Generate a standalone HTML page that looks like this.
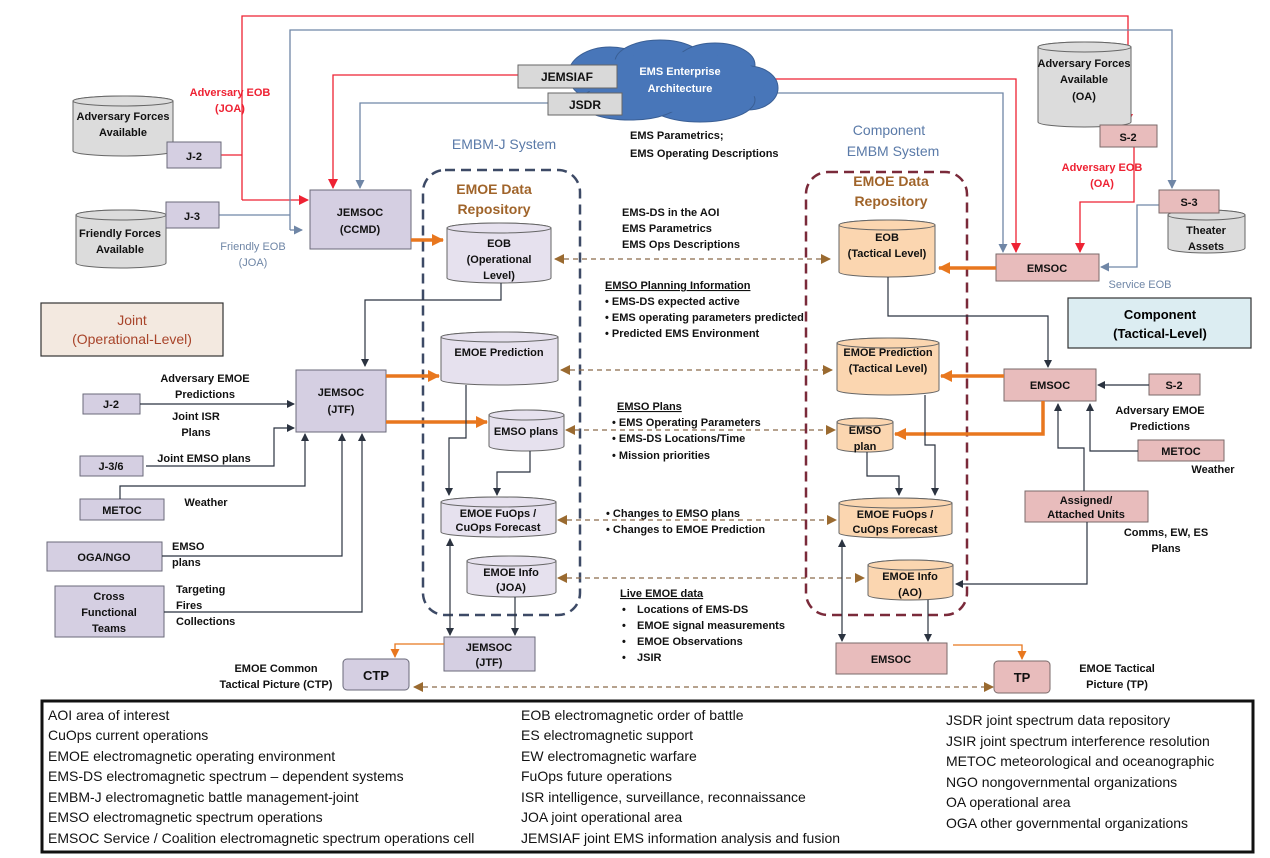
<!DOCTYPE html>
<html><head><meta charset="utf-8"><style>
html,body{margin:0;padding:0;background:#fff;}
svg{display:block;font-family:"Liberation Sans",Arial,sans-serif;}
.t{font-size:11px;font-weight:bold;fill:#111;}
.c{text-anchor:middle;}
.bx{fill:#d5cfe2;stroke:#6a6a7a;stroke-width:1;}
.pk{fill:#e8bcbc;stroke:#7a6a6a;stroke-width:1;}
.gy{fill:#dcdcdc;stroke:#666;stroke-width:1;}
.lv{fill:#e6e1ee;stroke:#666;stroke-width:1;}
.or{fill:#fbd6b0;stroke:#666;stroke-width:1;}
.k{fill:none;stroke:#2b3340;stroke-width:1.2;}
.r{fill:none;stroke:#ee2233;stroke-width:1.3;}
.g{fill:none;stroke:#6f86a6;stroke-width:1.3;}
.o{fill:none;stroke:#e8771e;stroke-width:3.5;}
.o1{fill:none;stroke:#e8771e;stroke-width:1.3;}
.d{fill:none;stroke:#8a6a4a;stroke-width:1.2;stroke-dasharray:5,4;}
.lg{font-size:14px;fill:#111;}
</style></head><body>
<svg width="1270" height="858" viewBox="0 0 1270 858">
<defs>
<marker id="mk" markerWidth="8" markerHeight="8" refX="7" refY="4" orient="auto" markerUnits="userSpaceOnUse"><path d="M0,0L8,4L0,8z" fill="#2b3340"/></marker>
<marker id="mr" markerWidth="10" markerHeight="10" refX="9" refY="5" orient="auto" markerUnits="userSpaceOnUse"><path d="M0,0L10,5L0,10z" fill="#ee2233"/></marker>
<marker id="mg" markerWidth="9" markerHeight="9" refX="8" refY="4.5" orient="auto" markerUnits="userSpaceOnUse"><path d="M0,0L9,4.5L0,9z" fill="#6f86a6"/></marker>
<marker id="mo" markerWidth="12" markerHeight="12" refX="11" refY="6" orient="auto" markerUnits="userSpaceOnUse"><path d="M0,0L12,6L0,12z" fill="#e8771e"/></marker>
<marker id="mo1" markerWidth="9" markerHeight="9" refX="8" refY="4.5" orient="auto" markerUnits="userSpaceOnUse"><path d="M0,0L9,4.5L0,9z" fill="#e8771e"/></marker>
<marker id="md" markerWidth="10" markerHeight="10" refX="9" refY="5" orient="auto" markerUnits="userSpaceOnUse"><path d="M0,0L10,5L0,10z" fill="#9a6a30"/></marker>
<marker id="mds" markerWidth="10" markerHeight="10" refX="1" refY="5" orient="auto" markerUnits="userSpaceOnUse"><path d="M10,0L0,5L10,10z" fill="#9a6a30"/></marker>
<marker id="mks" markerWidth="8" markerHeight="8" refX="1" refY="4" orient="auto" markerUnits="userSpaceOnUse"><path d="M8,0L0,4L8,8z" fill="#2b3340"/></marker>
</defs>

<path class="r" d="M242,200 V16 H1128 V123" marker-end="url(#mr)"/>
<path class="r" d="M221,155 H242"/>
<path class="r" d="M242,200 H308" marker-end="url(#mr)"/>
<path class="g" d="M290,230 V30 H1172 V188" marker-end="url(#mg)"/>
<path class="g" d="M290,230 H302" marker-end="url(#mg)"/>
<path class="g" d="M219,215 H290"/>
<path class="r" d="M518,75 H333 V188" marker-end="url(#mr)"/>
<path class="g" d="M548,103 H360 V188" marker-end="url(#mg)"/>
<path class="r" d="M760,79 H1016 V252" marker-end="url(#mr)"/>
<path class="g" d="M740,93 H1003 V252" marker-end="url(#mg)"/>
<path class="r" d="M1134,147 V202 H1080 V252" marker-end="url(#mr)"/>
<path class="g" d="M1159,205 H1137 V267 H1101" marker-end="url(#mg)"/>

<g fill="#4876b9" stroke="#3a5f95" stroke-width="1">
<ellipse cx="610" cy="75" rx="42" ry="28"/>
<ellipse cx="660" cy="62" rx="45" ry="22"/>
<ellipse cx="715" cy="65" rx="40" ry="22"/>
<ellipse cx="748" cy="88" rx="30" ry="22"/>
<ellipse cx="700" cy="100" rx="55" ry="22"/>
<ellipse cx="630" cy="102" rx="50" ry="18"/>
</g>
<g fill="#4876b9"><ellipse cx="675" cy="82" rx="90" ry="30"/></g>
<text x="680" y="75" class="t c" style="fill:#fff">EMS Enterprise</text>
<text x="680" y="92" class="t c" style="fill:#fff">Architecture</text>

<rect x="518" y="65" width="99" height="23" class="gy" style="fill:#d9d9d9"/>
<text x="567" y="81" class="t c" style="font-size:12px">JEMSIAF</text>
<rect x="548" y="93" width="74" height="22" class="gy" style="fill:#d9d9d9"/>
<text x="585" y="109" class="t c" style="font-size:12px">JSDR</text>

<g class="gy">
<path d="M73,101 v50 a50,5 0 0 0 100,0 v-50 a50,5 0 0 0 -100,0z"/><ellipse cx="123" cy="101" rx="50" ry="5"/>
<path d="M76,215 v48 a45,5 0 0 0 90,0 v-48 a45,5 0 0 0 -90,0z"/><ellipse cx="121" cy="215" rx="45" ry="5"/>
<path d="M1038,47 v75 a46.5,5 0 0 0 93,0 v-75 a46.5,5 0 0 0 -93,0z"/><ellipse cx="1084.5" cy="47" rx="46.5" ry="5"/>
<path d="M1168,215 v33 a38.5,5 0 0 0 77,0 v-33 a38.5,5 0 0 0 -77,0z"/><ellipse cx="1206.5" cy="215" rx="38.5" ry="5"/>
</g>
<g class="lv">
<path d="M447,228 v50 a52,5 0 0 0 104,0 v-50 a52,5 0 0 0 -104,0z"/><ellipse cx="499" cy="228" rx="52" ry="5"/>
<path d="M441,337 v43 a58.5,5 0 0 0 117,0 v-43 a58.5,5 0 0 0 -117,0z"/><ellipse cx="499.5" cy="337" rx="58.5" ry="5"/>
<path d="M489,415 v31 a37.5,5 0 0 0 75,0 v-31 a37.5,5 0 0 0 -75,0z"/><ellipse cx="526.5" cy="415" rx="37.5" ry="5"/>
<path d="M441,502 v30 a57.5,5 0 0 0 115,0 v-30 a57.5,5 0 0 0 -115,0z"/><ellipse cx="498.5" cy="502" rx="57.5" ry="5"/>
<path d="M467,561 v31 a44.5,5 0 0 0 89,0 v-31 a44.5,5 0 0 0 -89,0z"/><ellipse cx="511.5" cy="561" rx="44.5" ry="5"/>
</g>
<g class="or">
<path d="M839,225 v47 a48,5 0 0 0 96,0 v-47 a48,5 0 0 0 -96,0z"/><ellipse cx="887" cy="225" rx="48" ry="5"/>
<path d="M837,343 v47 a51,5 0 0 0 102,0 v-47 a51,5 0 0 0 -102,0z"/><ellipse cx="888" cy="343" rx="51" ry="5"/>
<path d="M837,422 v26 a28,4 0 0 0 56,0 v-26 a28,4 0 0 0 -56,0z"/><ellipse cx="865" cy="422" rx="28" ry="4"/>
<path d="M839,503 v30 a56.5,5 0 0 0 113,0 v-30 a56.5,5 0 0 0 -113,0z"/><ellipse cx="895.5" cy="503" rx="56.5" ry="5"/>
<path d="M868,565 v30 a42.5,5 0 0 0 85,0 v-30 a42.5,5 0 0 0 -85,0z"/><ellipse cx="910.5" cy="565" rx="42.5" ry="5"/>
</g>

<rect x="167" y="142" width="54" height="26" class="bx"/><text x="194" y="160" class="t c">J-2</text>
<rect x="166" y="202" width="53" height="26" class="bx"/><text x="192" y="220" class="t c">J-3</text>
<text x="123" y="120" class="t c">Adversary Forces</text><text x="123" y="136" class="t c">Available</text>
<text x="120" y="237" class="t c">Friendly Forces</text><text x="120" y="253" class="t c">Available</text>
<text x="230" y="96" class="t c" style="fill:#ee2233">Adversary EOB</text><text x="230" y="112" class="t c" style="fill:#ee2233">(JOA)</text>
<text x="253" y="250" class="t c" style="fill:#6f86a6;font-weight:normal">Friendly EOB</text><text x="253" y="266" class="t c" style="fill:#6f86a6;font-weight:normal">(JOA)</text>

<rect x="310" y="190" width="101" height="59" class="bx"/><text x="360" y="216" class="t c">JEMSOC</text><text x="360" y="233" class="t c">(CCMD)</text>

<text x="504" y="149" class="c" style="font-size:14px;fill:#5a7aa8">EMBM-J System</text>
<rect x="423" y="170" width="157" height="445" rx="22" fill="none" stroke="#3d4a66" stroke-width="2.5" stroke-dasharray="10,6"/>
<text x="494" y="194" class="c" style="font-size:14px;font-weight:bold;fill:#a0642a">EMOE Data</text>
<text x="494" y="214" class="c" style="font-size:14px;font-weight:bold;fill:#a0642a">Repository</text>
<path class="o" d="M411,240 H443" marker-end="url(#mo)"/>
<text x="499" y="247" class="t c">EOB</text><text x="499" y="263" class="t c">(Operational</text><text x="499" y="279" class="t c">Level)</text>
<text x="499" y="356" class="t c">EMOE Prediction</text>
<text x="526" y="435" class="t c">EMSO plans</text>
<text x="498" y="517" class="t c">EMOE FuOps /</text><text x="498" y="531" class="t c">CuOps Forecast</text>
<text x="511" y="576" class="t c">EMOE Info</text><text x="511" y="591" class="t c">(JOA)</text>

<path class="k" d="M501,283 V300 H365 V366" marker-end="url(#mk)"/>
<rect x="296" y="370" width="90" height="62" class="bx"/><text x="341" y="396" class="t c">JEMSOC</text><text x="341" y="413" class="t c">(JTF)</text>
<path class="o" d="M386,376 H439" marker-end="url(#mo)"/>
<path class="o" d="M386,422 H487" marker-end="url(#mo)"/>
<path class="k" d="M466,385 V438 H449 V495" marker-end="url(#mk)"/>
<path class="k" d="M530,451 V472 H497 V495" marker-end="url(#mk)"/>
<path class="k" d="M450,539 V635" marker-start="url(#mks)" marker-end="url(#mk)"/>
<path class="k" d="M515,597 V635" marker-end="url(#mk)"/>
<rect x="444" y="637" width="91" height="34" class="bx"/><text x="489" y="651" class="t c">JEMSOC</text><text x="489" y="666" class="t c">(JTF)</text>
<path class="o1" d="M444,644 H395 V657" marker-end="url(#mo1)"/>
<rect x="343" y="659" width="66" height="31" rx="4" class="bx"/><text x="376" y="680" class="t c" style="font-size:13px">CTP</text>
<text x="276" y="672" class="t c">EMOE Common</text><text x="276" y="688" class="t c">Tactical Picture (CTP)</text>

<rect x="83" y="394" width="57" height="20" class="bx"/><text x="111" y="408" class="t c">J-2</text>
<rect x="80" y="456" width="63" height="20" class="bx"/><text x="111" y="470" class="t c">J-3/6</text>
<rect x="80" y="499" width="84" height="21" class="bx"/><text x="122" y="514" class="t c">METOC</text>
<rect x="47" y="542" width="115" height="29" class="bx"/><text x="104" y="561" class="t c">OGA/NGO</text>
<rect x="55" y="586" width="109" height="51" class="bx"/><text x="109" y="600" class="t c">Cross</text><text x="109" y="616" class="t c">Functional</text><text x="109" y="632" class="t c">Teams</text>
<path class="k" d="M140,404 H294" marker-end="url(#mk)"/>
<path class="k" d="M146,466 H274 V428 H294" marker-end="url(#mk)"/>
<path class="k" d="M120,499 V486 H305 V434" marker-end="url(#mk)"/>
<path class="k" d="M162,556 H342 V434" marker-end="url(#mk)"/>
<path class="k" d="M164,612 H362 V434" marker-end="url(#mk)"/>
<text x="205" y="382" class="t c">Adversary EMOE</text><text x="205" y="398" class="t c">Predictions</text>
<text x="196" y="420" class="t c">Joint ISR</text><text x="196" y="436" class="t c">Plans</text>
<text x="204" y="462" class="t c">Joint EMSO plans</text>
<text x="206" y="506" class="t c">Weather</text>
<text x="172" y="550" class="t">EMSO</text><text x="172" y="566" class="t">plans</text>
<text x="176" y="593" class="t">Targeting</text><text x="176" y="609" class="t">Fires</text><text x="176" y="625" class="t">Collections</text>

<rect x="41" y="303" width="182" height="53" fill="#f3e9e0" stroke="#333" stroke-width="1.2"/>
<text x="132" y="325" class="c" style="font-size:14px;fill:#a8442a">Joint</text>
<text x="132" y="344" class="c" style="font-size:14px;fill:#a8442a">(Operational-Level)</text>

<text x="630" y="139" class="t">EMS Parametrics;</text>
<text x="630" y="157" class="t">EMS Operating Descriptions</text>
<text x="622" y="216" class="t">EMS-DS in the AOI</text>
<text x="622" y="232" class="t">EMS Parametrics</text>
<text x="622" y="248" class="t">EMS Ops Descriptions</text>
<path class="d" d="M555,259 H830" marker-start="url(#mds)" marker-end="url(#md)"/>
<text x="605" y="289" class="t" style="text-decoration:underline">EMSO Planning Information</text>
<text x="605" y="305" class="t">• EMS-DS expected active</text>
<text x="605" y="321" class="t">• EMS operating parameters predicted</text>
<text x="605" y="337" class="t">• Predicted EMS Environment</text>
<path class="d" d="M561,370 H832" marker-start="url(#mds)" marker-end="url(#md)"/>
<text x="617" y="410" class="t" style="text-decoration:underline">EMSO Plans</text>
<text x="612" y="426" class="t">• EMS Operating Parameters</text>
<text x="612" y="442" class="t">• EMS-DS Locations/Time</text>
<text x="612" y="459" class="t">• Mission priorities</text>
<path class="d" d="M566,430 H835" marker-start="url(#mds)" marker-end="url(#md)"/>
<text x="606" y="517" class="t">• Changes to EMSO plans</text>
<text x="606" y="533" class="t">• Changes to EMOE Prediction</text>
<path class="d" d="M558,520 H836" marker-start="url(#mds)" marker-end="url(#md)"/>
<path class="d" d="M558,578 H864" marker-start="url(#mds)" marker-end="url(#md)"/>
<text x="620" y="597" class="t" style="text-decoration:underline">Live EMOE data</text>
<text x="622" y="613" class="t">•</text><text x="637" y="613" class="t">Locations of EMS-DS</text>
<text x="622" y="629" class="t">•</text><text x="637" y="629" class="t">EMOE signal measurements</text>
<text x="622" y="645" class="t">•</text><text x="637" y="645" class="t">EMOE Observations</text>
<text x="622" y="661" class="t">•</text><text x="637" y="661" class="t">JSIR</text>
<path class="d" d="M414,687 H993" marker-start="url(#mds)" marker-end="url(#md)"/>

<text x="889" y="135" class="c" style="font-size:14px;fill:#5a7aa8">Component</text>
<text x="893" y="156" class="c" style="font-size:14px;fill:#5a7aa8">EMBM System</text>
<rect x="806" y="172" width="161" height="443" rx="22" fill="none" stroke="#7a2a3a" stroke-width="2.5" stroke-dasharray="10,6"/>
<text x="891" y="186" class="c" style="font-size:14px;font-weight:bold;fill:#a0642a">EMOE Data</text>
<text x="891" y="206" class="c" style="font-size:14px;font-weight:bold;fill:#a0642a">Repository</text>
<text x="887" y="241" class="t c">EOB</text><text x="887" y="257" class="t c">(Tactical Level)</text>
<text x="888" y="356" class="t c">EMOE Prediction</text><text x="888" y="372" class="t c">(Tactical Level)</text>
<text x="865" y="434" class="t c">EMSO</text><text x="865" y="450" class="t c">plan</text>
<text x="895" y="518" class="t c">EMOE FuOps /</text><text x="895" y="533" class="t c">CuOps Forecast</text>
<text x="910" y="580" class="t c">EMOE Info</text><text x="910" y="596" class="t c">(AO)</text>

<rect x="1100" y="125" width="57" height="22" class="pk"/><text x="1128" y="141" class="t c">S-2</text>
<rect x="1159" y="190" width="60" height="23" class="pk"/><text x="1189" y="206" class="t c">S-3</text>
<text x="1084" y="67" class="t c">Adversary Forces</text><text x="1084" y="83" class="t c">Available</text><text x="1084" y="100" class="t c">(OA)</text>
<text x="1206" y="234" class="t c">Theater</text><text x="1206" y="250" class="t c">Assets</text>
<text x="1102" y="171" class="t c" style="fill:#ee2233">Adversary EOB</text><text x="1102" y="187" class="t c" style="fill:#ee2233">(OA)</text>
<rect x="996" y="254" width="103" height="27" class="pk"/><text x="1047" y="272" class="t c">EMSOC</text>
<text x="1140" y="288" class="t c" style="fill:#6f86a6;font-weight:normal">Service EOB</text>
<path class="o" d="M996,268 H939" marker-end="url(#mo)"/>
<rect x="1068" y="298" width="183" height="50" fill="#dcedf2" stroke="#333" stroke-width="1.2"/>
<text x="1160" y="319" class="c" style="font-size:13px;font-weight:bold">Component</text>
<text x="1160" y="338" class="c" style="font-size:13px;font-weight:bold">(Tactical-Level)</text>

<path class="k" d="M888,277 V316 H1048 V367" marker-end="url(#mk)"/>
<rect x="1004" y="369" width="92" height="32" class="pk"/><text x="1050" y="389" class="t c">EMSOC</text>
<path class="o" d="M1004,376 H941" marker-end="url(#mo)"/>
<path class="o" d="M1043,401 V434 H895" marker-end="url(#mo)"/>
<rect x="1149" y="374" width="51" height="21" class="pk"/><text x="1174" y="389" class="t c">S-2</text>
<path class="k" d="M1149,385 H1098" marker-end="url(#mk)"/>
<rect x="1138" y="440" width="86" height="21" class="pk"/><text x="1181" y="455" class="t c">METOC</text>
<path class="k" d="M1138,451 H1090 V404" marker-end="url(#mk)"/>
<rect x="1025" y="491" width="123" height="31" class="pk"/><text x="1086" y="504" class="t c">Assigned/</text><text x="1086" y="518" class="t c">Attached Units</text>
<path class="k" d="M1084,491 V448 H1058 V404" marker-end="url(#mk)"/>
<path class="k" d="M1087,522 V584 H956" marker-end="url(#mk)"/>
<text x="1160" y="414" class="t c">Adversary EMOE</text><text x="1160" y="430" class="t c">Predictions</text>
<text x="1213" y="473" class="t c">Weather</text>
<text x="1166" y="536" class="t c">Comms, EW, ES</text><text x="1166" y="552" class="t c">Plans</text>

<path class="k" d="M925,395 V445 H935 V495" marker-end="url(#mk)"/>
<path class="k" d="M867,452 V476 H899 V495" marker-end="url(#mk)"/>
<path class="k" d="M842,540 V641" marker-start="url(#mks)" marker-end="url(#mk)"/>
<path class="k" d="M928,600 V641" marker-end="url(#mk)"/>
<rect x="836" y="643" width="111" height="31" class="pk"/><text x="891" y="663" class="t c">EMSOC</text>
<path class="o1" d="M953,645 H1022 V659" marker-end="url(#mo1)"/>
<rect x="994" y="661" width="56" height="32" rx="4" class="pk"/><text x="1022" y="682" class="t c" style="font-size:13px">TP</text>
<text x="1117" y="672" class="t c">EMOE Tactical</text><text x="1117" y="688" class="t c">Picture (TP)</text>

<rect x="42" y="701" width="1211" height="151" fill="#fff" stroke="#111" stroke-width="3"/>
<g class="lg">
<text x="48" y="720">AOI area of interest</text>
<text x="48" y="740">CuOps current operations</text>
<text x="48" y="761">EMOE electromagnetic operating environment</text>
<text x="48" y="781">EMS-DS electromagnetic spectrum – dependent systems</text>
<text x="48" y="802">EMBM-J electromagnetic battle management-joint</text>
<text x="48" y="822">EMSO electromagnetic spectrum operations</text>
<text x="48" y="843">EMSOC Service / Coalition electromagnetic spectrum operations cell</text>
<text x="521" y="720">EOB electromagnetic order of battle</text>
<text x="521" y="740">ES electromagnetic support</text>
<text x="521" y="761">EW electromagnetic warfare</text>
<text x="521" y="781">FuOps future operations</text>
<text x="521" y="802">ISR intelligence, surveillance, reconnaissance</text>
<text x="521" y="822">JOA joint operational area</text>
<text x="521" y="843">JEMSIAF joint EMS information analysis and fusion</text>
<text x="946" y="725">JSDR joint spectrum data repository</text>
<text x="946" y="746">JSIR joint spectrum interference resolution</text>
<text x="946" y="766">METOC meteorological and oceanographic</text>
<text x="946" y="787">NGO nongovernmental organizations</text>
<text x="946" y="807">OA operational area</text>
<text x="946" y="828">OGA other governmental organizations</text>
</g>
</svg>
</body></html>
